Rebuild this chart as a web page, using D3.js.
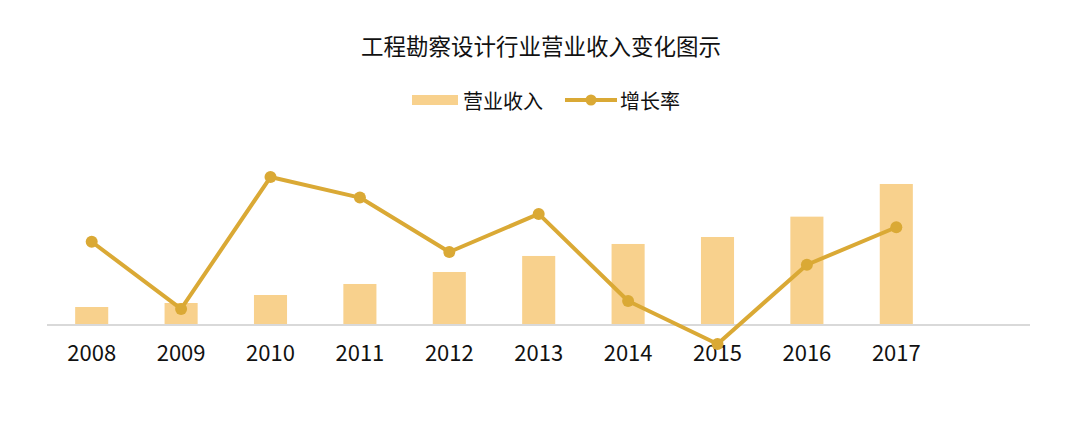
<!DOCTYPE html>
<html><head><meta charset="utf-8">
<script src="https://cdn.jsdelivr.net/npm/d3@7/dist/d3.min.js"></script>
<style>html,body{margin:0;padding:0;background:#fff;}svg{display:block;}</style>
</head><body>
<svg id="c" width="1080" height="422"></svg>
<script>
const years = ["2008","2009","2010","2011","2012","2013","2014","2015","2016","2017"];
const revenue = [5540, 6770, 9230, 12620, 16310, 21240, 24930, 27080, 33340, 43390];
const growth = [25.1, 14.0, 35.8, 32.4, 23.4, 29.7, 15.3, 8.2, 21.3, 27.5];
const title = "工程勘察设计行业营业收入变化图示";
const legendLabels = ["营业收入", "增长率"];

const W = 1080, H = 422;
const barColor = "#F8D18D", lineColor = "#DAA935", axisColor = "#D9D9D9";
const font = "'Noto Sans CJK SC', 'Noto Sans', sans-serif";
const svg = d3.select("#c");
const left = 47, step = 89.4, baseY = 325;

const x = d3.scaleBand().domain(years).range([left, left + step * years.length]).paddingInner(0.63).paddingOuter(0.315);
const yBar = d3.scaleLinear().domain([0, 50000]).range([baseY, baseY - 162.5]);
const yLine = d3.scaleLinear().domain([0, 40]).range([393.6, 151.6]);

// title
svg.append("text").attr("x", W / 2 + 1).attr("y", 45).attr("text-anchor", "middle")
  .attr("dominant-baseline", "central").attr("font-family", font).attr("font-size", 22.5)
  .attr("fill", "#111").text(title);

// legend
const lg = svg.append("g");
lg.append("rect").attr("x", 412).attr("y", 95).attr("width", 46).attr("height", 10).attr("fill", barColor);
lg.append("text").attr("x", 463).attr("y", 100).attr("dominant-baseline", "central")
  .attr("font-family", font).attr("font-size", 20).attr("fill", "#111").text(legendLabels[0]);
lg.append("line").attr("x1", 565).attr("x2", 617).attr("y1", 100).attr("y2", 100)
  .attr("stroke", lineColor).attr("stroke-width", 4);
lg.append("circle").attr("cx", 591).attr("cy", 100).attr("r", 5.5).attr("fill", lineColor);
lg.append("text").attr("x", 620).attr("y", 100).attr("dominant-baseline", "central")
  .attr("font-family", font).attr("font-size", 20).attr("fill", "#111").text(legendLabels[1]);

// bars
svg.append("g").selectAll("rect").data(years).join("rect")
  .attr("x", d => x(d)).attr("width", x.bandwidth())
  .attr("y", (d, i) => yBar(revenue[i])).attr("height", (d, i) => baseY - yBar(revenue[i]))
  .attr("fill", barColor);

// axis
const axis = svg.append("g").attr("transform", `translate(0,${baseY})`)
  .call(d3.axisBottom(x).tickSize(0).tickPadding(20));
axis.select(".domain").remove();
axis.append("line").attr("x1", left).attr("x2", 1030).attr("y1", 0).attr("y2", 0)
  .attr("stroke", axisColor).attr("stroke-width", 2);
axis.selectAll(".tick text").attr("font-family", font).attr("font-size", 22).attr("fill", "#111");

// line
const cx = i => x(years[i]) + x.bandwidth() / 2;
const line = d3.line().x((d, i) => cx(i)).y(d => yLine(d));
svg.append("path").datum(growth).attr("d", line).attr("fill", "none")
  .attr("stroke", lineColor).attr("stroke-width", 4).attr("stroke-linejoin", "round");
svg.append("g").selectAll("circle").data(growth).join("circle")
  .attr("cx", (d, i) => cx(i)).attr("cy", d => yLine(d)).attr("r", 6).attr("fill", lineColor);
</script>
</body></html>
